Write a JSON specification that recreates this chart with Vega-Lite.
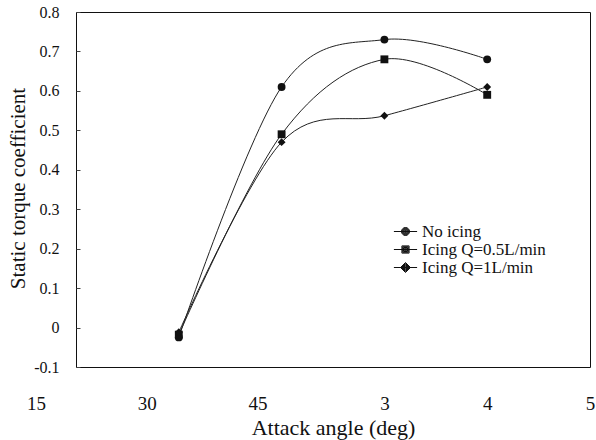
{
  "$schema": "https://vega.github.io/schema/vega-lite/v6.json",
  "width": 514,
  "height": 355,
  "autosize": {"type": "none"},
  "padding": {"left": 76, "top": 12, "right": 6, "bottom": 73},
  "background": "white",
  "config": {
    "view": {"stroke": "#111", "strokeWidth": 1},
    "font": "Liberation Serif, Times New Roman, serif",
    "axis": {"labelFont": "Liberation Serif, Times New Roman, serif", "titleFont": "Liberation Serif, Times New Roman, serif"},
    "legend": {"labelFont": "Liberation Serif, Times New Roman, serif"}
  },
  "datasets": {
    "series": [
      {"pos": 1, "value": -0.025, "series": "No icing"},
      {"pos": 2, "value": 0.61, "series": "No icing"},
      {"pos": 3, "value": 0.73, "series": "No icing"},
      {"pos": 4, "value": 0.68, "series": "No icing"},
      {"pos": 1, "value": -0.018, "series": "Icing Q=0.5L/min"},
      {"pos": 2, "value": 0.49, "series": "Icing Q=0.5L/min"},
      {"pos": 3, "value": 0.68, "series": "Icing Q=0.5L/min"},
      {"pos": 4, "value": 0.59, "series": "Icing Q=0.5L/min"},
      {"pos": 1, "value": -0.012, "series": "Icing Q=1L/min"},
      {"pos": 2, "value": 0.47, "series": "Icing Q=1L/min"},
      {"pos": 3, "value": 0.537, "series": "Icing Q=1L/min"},
      {"pos": 4, "value": 0.61, "series": "Icing Q=1L/min"}
    ],
    "zeroTicks": [{"pos": 1}, {"pos": 2}, {"pos": 3}, {"pos": 4}, {"pos": 5}],
    "legendKeys": [
      {"series": "No icing"},
      {"series": "Icing Q=0.5L/min"},
      {"series": "Icing Q=1L/min"}
    ]
  },
  "data": {"name": "series"},
  "encoding": {
    "x": {
      "field": "pos",
      "type": "quantitative",
      "scale": {"domain": [0, 5], "nice": false, "zero": false},
      "axis": {
        "title": "Attack angle (deg)",
        "values": [0, 1, 2, 3, 4, 5],
        "labelExpr": "datum.value == 0 ? '15' : datum.value == 1 ? '30' : datum.value == 2 ? '45' : '' + datum.value",
        "ticks": false,
        "grid": false,
        "domain": false,
        "labelFont": "Liberation Serif, Times New Roman, serif",
        "labelFontSize": 19,
        "labelColor": "#111",
        "labelPadding": 27,
        "labelFlush": false,
        "labelOverlap": false,
        "labelBound": false,
        "labelOffset": {
          "condition": [
            {"test": "datum.value == 0", "value": -40},
            {"test": "datum.value == 1", "value": -32},
            {"test": "datum.value == 2", "value": -24}
          ],
          "value": 0
        },
        "titleFont": "Liberation Serif, Times New Roman, serif",
        "titleFontSize": 22,
        "titleFontWeight": "normal",
        "titleColor": "#111",
        "titleY": 67,
        "titleBaseline": "alphabetic"
      }
    },
    "y": {
      "field": "value",
      "type": "quantitative",
      "scale": {"domain": [-0.1, 0.8], "nice": false, "zero": false},
      "axis": {
        "title": "Static torque coefficient",
        "values": [-0.1, 0, 0.1, 0.2, 0.3, 0.4, 0.5, 0.6, 0.7, 0.8],
        "labelExpr": "datum.value == 0 ? '0' : (datum.value < 0 ? '-' + format(-datum.value, '.1f') : format(datum.value, '.1f'))",
        "grid": false,
        "domain": false,
        "ticks": true,
        "tickSize": -4,
        "tickColor": "#444",
        "labelFont": "Liberation Serif, Times New Roman, serif",
        "labelFontSize": 16,
        "labelColor": "#111",
        "labelPadding": 21,
        "titleFont": "Liberation Serif, Times New Roman, serif",
        "titleFontSize": 21,
        "titleFontWeight": "normal",
        "titleColor": "#111",
        "titleX": -52,
        "titleY": 176,
        "titleBaseline": "alphabetic",
        "titleAlign": "center"
      }
    }
  },
  "layer": [
    {
      "data": {"values": [{}]},
      "mark": {"type": "rule", "color": "#444", "strokeWidth": 1},
      "encoding": {
        "x": {"datum": 0, "type": "quantitative"},
        "x2": {"datum": 5},
        "y": {"datum": 0, "type": "quantitative"}
      }
    },
    {
      "data": {"name": "zeroTicks"},
      "mark": {"type": "tick", "orient": "vertical", "size": 6, "thickness": 1, "yOffset": 3, "color": "#444"},
      "encoding": {
        "y": {"datum": 0, "type": "quantitative"}
      }
    },
    {
      "mark": {"type": "line", "interpolate": "cardinal", "tension": 0, "strokeWidth": 1, "color": "#222"},
      "encoding": {
        "detail": {"field": "series"}
      }
    },
    {
      "mark": {"type": "point", "filled": true, "size": 62, "opacity": 1, "color": "#111"},
      "encoding": {
        "shape": {
          "field": "series",
          "type": "nominal",
          "scale": {
            "domain": ["No icing", "Icing Q=0.5L/min", "Icing Q=1L/min"],
            "range": ["circle", "square", "diamond"]
          },
          "legend": null
        }
      }
    },
    {
      "data": {"name": "legendKeys"},
      "transform": [{"filter": "datum.series == 'none'"}],
      "mark": {"type": "point", "filled": false, "size": 64, "opacity": 1, "color": "#111", "strokeWidth": 1},
      "encoding": {
        "x": {"datum": 0, "type": "quantitative"},
        "y": {"datum": 0, "type": "quantitative"},
        "shape": {
          "field": "series",
          "type": "nominal",
          "scale": {
            "domain": ["No icing", "Icing Q=0.5L/min", "Icing Q=1L/min"],
            "range": [
              "M-2.9,0H2.9M1,0A1,1,0,1,1,-1,0A1,1,0,1,1,1,0ZM0.85,0A0.85,0.85,0,1,1,-0.85,0A0.85,0.85,0,1,1,0.85,0ZM0.7,0A0.7,0.7,0,1,1,-0.7,0A0.7,0.7,0,1,1,0.7,0ZM0.55,0A0.55,0.55,0,1,1,-0.55,0A0.55,0.55,0,1,1,0.55,0ZM0.4,0A0.4,0.4,0,1,1,-0.4,0A0.4,0.4,0,1,1,0.4,0ZM0.25,0A0.25,0.25,0,1,1,-0.25,0A0.25,0.25,0,1,1,0.25,0ZM0.1,0A0.1,0.1,0,1,1,-0.1,0A0.1,0.1,0,1,1,0.1,0Z",
              "M-2.9,0H2.9M-0.9,-0.9H0.9V0.9H-0.9ZM-0.7,-0.7H0.7V0.7H-0.7ZM-0.5,-0.5H0.5V0.5H-0.5ZM-0.3,-0.3H0.3V0.3H-0.3ZM-0.1,-0.1H0.1V0.1H-0.1Z",
              "M-2.9,0H2.9M0,-1.25L1.25,0L0,1.25L-1.25,0ZM0,-1L1,0L0,1L-1,0ZM0,-0.75L0.75,0L0,0.75L-0.75,0ZM0,-0.5L0.5,0L0,0.5L-0.5,0ZM0,-0.25L0.25,0L0,0.25L-0.25,0Z"
            ]
          },
          "legend": {
            "orient": "none",
            "legendX": 321,
            "legendY": 211,
            "title": null,
            "padding": 0,
            "labelFont": "Liberation Serif, Times New Roman, serif",
            "labelFontSize": 17,
            "labelColor": "#111",
            "symbolSize": 64,
            "symbolStrokeColor": "#111",
            "symbolStrokeWidth": 1,
            "symbolOpacity": 1,
            "rowPadding": 0,
            "labelOffset": 8
          }
        }
      }
    }
  ],
  "resolve": {"scale": {"shape": "independent"}, "legend": {"shape": "independent"}}
}
